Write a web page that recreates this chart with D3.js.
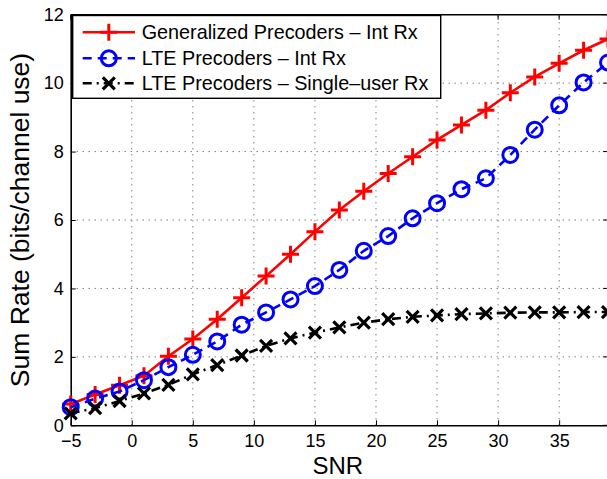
<!DOCTYPE html>
<html>
<head>
<meta charset="utf-8">
<script src="https://cdn.jsdelivr.net/npm/d3@7"></script>
<style>
  body { margin: 0; background: #fff; }
  svg { display: block; font-family: "Liberation Sans", Arial, sans-serif; }
</style>
</head>
<body>
<svg id="chart"></svg>
<script>
const snr = [-5, -3, -1, 1, 3, 5, 7, 9, 11, 13, 15, 17, 19, 21, 23, 25, 27, 29, 31, 33, 35, 37, 39];
const generalizedInt = [0.62, 0.9, 1.17, 1.45, 2.02, 2.52, 3.1, 3.73, 4.36, 5.0, 5.66, 6.29, 6.84, 7.36, 7.85, 8.34, 8.78, 9.21, 9.72, 10.18, 10.58, 10.96, 11.29];
const lteInt = [0.53, 0.78, 0.99, 1.32, 1.7, 2.06, 2.45, 2.94, 3.3, 3.68, 4.07, 4.54, 5.1, 5.53, 6.05, 6.49, 6.9, 7.22, 7.9, 8.64, 9.35, 10.02, 10.6];
const lteSingle = [0.35, 0.5, 0.71, 0.93, 1.18, 1.49, 1.76, 2.04, 2.32, 2.54, 2.71, 2.86, 3.0, 3.1, 3.17, 3.21, 3.25, 3.27, 3.29, 3.3, 3.3, 3.31, 3.31];
const seriesNames = ["Generalized Precoders \u2013 Int Rx", "LTE Precoders \u2013 Int Rx", "LTE Precoders  \u2013 Single\u2013user Rx"];
const xTicks = [-5, 0, 5, 10, 15, 20, 25, 30, 35];
const yTicks = [0, 2, 4, 6, 8, 10, 12];

const W = 607, H = 479;
const margin = { top: 14.7, right: -1, bottom: 53.7, left: 70.7 };

const svg = d3.select("#chart").attr("width", W).attr("height", H);
svg.append("rect").attr("width", W).attr("height", H).attr("fill", "#fff");

const x = d3.scaleLinear().domain([-5, 39]).range([margin.left, W - margin.right]);
const y = d3.scaleLinear().domain([0, 12]).range([H - margin.bottom, margin.top]);

// grid
const grid = svg.append("g").attr("stroke", "#444").attr("stroke-width", 1).attr("stroke-dasharray", "1,5");
grid.selectAll(".gx").data(xTicks.slice(1)).enter().append("line")
    .attr("x1", d => x(d)).attr("x2", d => x(d))
    .attr("y1", y(0)).attr("y2", y(12));
grid.selectAll(".gy").data(yTicks.slice(1, -1)).enter().append("line")
    .attr("x1", x(-5)).attr("x2", x(39))
    .attr("y1", d => y(d)).attr("y2", d => y(d));

// axes
const xAxis = svg.append("g")
    .attr("transform", `translate(0,${y(0)})`)
    .call(d3.axisBottom(x).tickValues(xTicks).tickSizeInner(-5).tickSizeOuter(0).tickPadding(8.5).tickFormat(d => d < 0 ? "\u2212" + Math.abs(d) : d));
const yAxis = svg.append("g")
    .attr("transform", `translate(${x(-5)},0)`)
    .call(d3.axisLeft(y).tickValues(yTicks).tickSizeInner(-5).tickSizeOuter(0).tickPadding(7));
[xAxis, yAxis].forEach(a => {
  a.select(".domain").attr("stroke", "#000").attr("stroke-width", 1.6);
  a.selectAll(".tick line").attr("stroke", "#000").attr("stroke-width", 1);
  a.selectAll("text").attr("font-size", 18).attr("fill", "#000").attr("font-family", "Liberation Sans, Arial, sans-serif");
});
// top & right frame with inward ticks
svg.append("line").attr("x1", x(-5)).attr("x2", x(39)).attr("y1", y(12)).attr("y2", y(12))
    .attr("stroke", "#000").attr("stroke-width", 1.6);
svg.append("g").selectAll("line").data(xTicks).enter().append("line")
    .attr("x1", d => x(d)).attr("x2", d => x(d)).attr("y1", y(12)).attr("y2", y(12) + 5)
    .attr("stroke", "#000");
svg.append("g").selectAll("line").data(yTicks).enter().append("line")
    .attr("x1", x(39)).attr("x2", x(39) - 5).attr("y1", d => y(d)).attr("y2", d => y(d))
    .attr("stroke", "#000");

// series
const series = [
  { values: generalizedInt, color: "#ff0000", dash: null, marker: "plus" },
  { values: lteInt, color: "#0000ff", dash: "9,6", marker: "circle" },
  { values: lteSingle, color: "#000000", dash: "9,5,2,5", marker: "cross" }
];

const line = d3.line().x(d => x(d[0])).y(d => y(d[1]));

function drawMarker(g, type, color) {
  if (type === "plus") {
    g.append("path").attr("d", "M-8.5,0H8.5M0,-8.5V8.5").attr("stroke", color).attr("stroke-width", 3).attr("fill", "none");
  } else if (type === "circle") {
    g.append("circle").attr("r", 7.5).attr("stroke", color).attr("stroke-width", 3).attr("fill", "none");
  } else {
    g.append("path").attr("d", "M-6,-6L6,6M-6,6L6,-6").attr("stroke", color).attr("stroke-width", 3.2).attr("fill", "none");
  }
}

const plot = svg.append("g");
series.forEach(s => {
  const pts = snr.map((v, i) => [v, s.values[i]]);
  plot.append("path").datum(pts)
      .attr("d", line)
      .attr("fill", "none")
      .attr("stroke", s.color)
      .attr("stroke-width", 2.6)
      .attr("stroke-dasharray", s.dash);
  plot.selectAll(null).data(pts).enter().append("g")
      .attr("transform", d => `translate(${x(d[0])},${y(d[1])})`)
      .each(function() { drawMarker(d3.select(this), s.marker, s.color); });
});

// legend
const lg = svg.append("g");
lg.append("rect").attr("x", 72.7).attr("y", 15.5).attr("width", 368).attr("height", 82.8)
    .attr("fill", "#fff").attr("stroke", "#000").attr("stroke-width", 1.4);
const rowsY = [32.3, 58.3, 83.3];
series.forEach((s, i) => {
  const ry = rowsY[i];
  lg.append("line").attr("x1", 82.7).attr("x2", 135).attr("y1", ry).attr("y2", ry)
      .attr("stroke", s.color).attr("stroke-width", 2.6).attr("stroke-dasharray", s.dash);
  const m = lg.append("g").attr("transform", `translate(108.8,${ry})`);
  drawMarker(m, s.marker, s.color);
  lg.append("text").attr("x", 141.7).attr("y", ry + 7).attr("font-size", 19.8).attr("fill", "#000")
      .text(seriesNames[i]);
});

// axis labels
svg.append("text").attr("x", (x(-5) + 607) / 2 - 1).attr("y", 474).attr("text-anchor", "middle")
    .attr("font-size", 24).attr("fill", "#000").text("SNR");
svg.append("text").attr("transform", `translate(29,${(y(0) + y(12)) / 2}) rotate(-90)`)
    .attr("text-anchor", "middle").attr("font-size", 26.5).attr("fill", "#000")
    .text("Sum Rate (bits/channel use)");
</script>
</body>
</html>
